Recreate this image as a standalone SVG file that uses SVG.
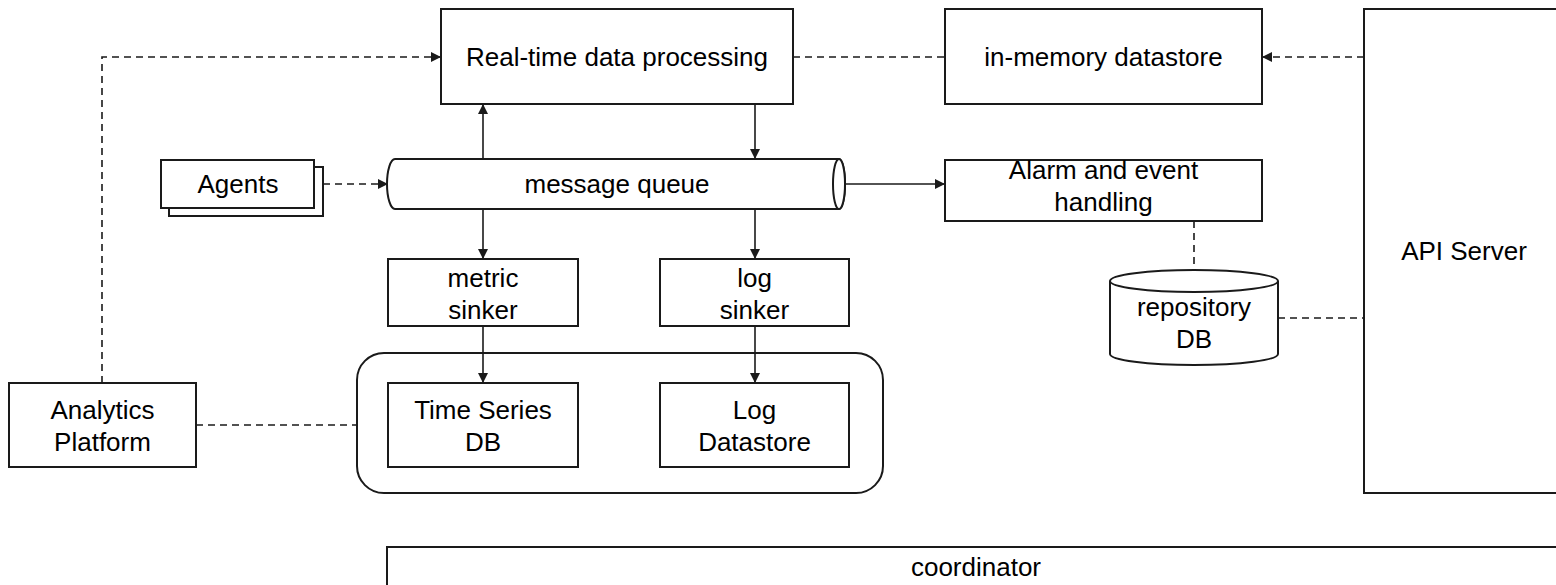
<svg xmlns="http://www.w3.org/2000/svg" width="1556" height="585" viewBox="0 0 1556 585">
<defs>
<marker id="arr" viewBox="0 0 10 10" refX="10" refY="5" markerWidth="10" markerHeight="10" markerUnits="userSpaceOnUse" orient="auto">
<path d="M0,0 L10,5 L0,10 Z" fill="#1a1a1a"/>
</marker>
<style>
.box{fill:#fff;stroke:#1a1a1a;stroke-width:2}
.t{font-family:"Liberation Sans",Arial,sans-serif;font-size:26px;fill:#000;text-anchor:middle}
.solid{fill:none;stroke:#1a1a1a;stroke-width:1.6}
.dash{fill:none;stroke:#1a1a1a;stroke-width:1.6;stroke-dasharray:7 5}
</style>
</defs>
<rect width="1556" height="585" fill="#fff"/>

<g id="container">
<rect class="box" x="357" y="353" width="526" height="140" rx="27" ry="27"/>
</g>

<g id="connectors">
<path class="dash" d="M102,383 L102,57 L441,57" marker-end="url(#arr)"/>
<path class="dash" d="M793,57 L945,57"/>
<path class="dash" d="M1364,57 L1262,57" marker-end="url(#arr)"/>
<path class="dash" d="M323,184 L388,184" marker-end="url(#arr)"/>
<path class="solid" d="M483,159 L483,104" marker-end="url(#arr)"/>
<path class="solid" d="M755,104 L755,159" marker-end="url(#arr)"/>
<path class="solid" d="M845,184 L945,184" marker-end="url(#arr)"/>
<path class="solid" d="M483,209 L483,259" marker-end="url(#arr)"/>
<path class="solid" d="M755,209 L755,259" marker-end="url(#arr)"/>
<path class="solid" d="M483,326 L483,383" marker-end="url(#arr)"/>
<path class="solid" d="M755,326 L755,383" marker-end="url(#arr)"/>
<path class="dash" d="M1194,221 L1194,270"/>
<path class="dash" d="M1278,318 L1364,318"/>
<path class="dash" d="M196,425 L357,425"/>
</g>

<g id="realtime">
<rect class="box" x="441" y="9" width="352" height="95"/>
<text class="t" x="617" y="66">Real-time data processing</text>
</g>

<g id="inmemory">
<rect class="box" x="945" y="9" width="317" height="95"/>
<text class="t" x="1103.5" y="66">in-memory datastore</text>
</g>

<g id="apiserver">
<rect class="box" x="1364" y="9" width="210" height="484"/>
<text class="t" x="1464" y="260">API Server</text>
</g>

<g id="agents">
<rect class="box" x="169" y="167" width="154" height="49"/>
<rect class="box" x="161" y="160" width="153" height="48"/>
<text class="t" x="238" y="193">Agents</text>
</g>

<g id="queue">
<path class="box" d="M395,159 L839,159 A6,25 0 0 1 839,209 L395,209 A8,25 0 0 1 395,159 Z"/>
<ellipse class="box" cx="839" cy="184" rx="6" ry="25"/>
<text class="t" x="617" y="193">message queue</text>
</g>

<g id="alarm">
<rect class="box" x="945" y="160" width="317" height="61"/>
<text class="t" x="1103.5" y="179">Alarm and event</text>
<text class="t" x="1103.5" y="211">handling</text>
</g>

<g id="repodb">
<path class="box" d="M1110,281 L1110,354 A84,11 0 0 0 1278,354 L1278,281"/>
<ellipse class="box" cx="1194" cy="281" rx="84" ry="11"/>
<text class="t" x="1194" y="316">repository</text>
<text class="t" x="1194" y="348">DB</text>
</g>

<g id="metricsinker">
<rect class="box" x="388" y="259" width="190" height="67"/>
<text class="t" x="483" y="287">metric</text>
<text class="t" x="483" y="319">sinker</text>
</g>

<g id="logsinker">
<rect class="box" x="660" y="259" width="189" height="67"/>
<text class="t" x="754.5" y="287">log</text>
<text class="t" x="754.5" y="319">sinker</text>
</g>

<g id="tsdb">
<rect class="box" x="388" y="383" width="190" height="84"/>
<text class="t" x="483" y="419">Time Series</text>
<text class="t" x="483" y="451">DB</text>
</g>

<g id="logdatastore">
<rect class="box" x="660" y="383" width="189" height="84"/>
<text class="t" x="754.5" y="419">Log</text>
<text class="t" x="754.5" y="451">Datastore</text>
</g>

<g id="analytics">
<rect class="box" x="9" y="383" width="187" height="84"/>
<text class="t" x="102.5" y="419">Analytics</text>
<text class="t" x="102.5" y="451">Platform</text>
</g>

<g id="coordinator">
<rect class="box" x="387" y="547" width="1190" height="60"/>
<text class="t" x="976" y="576">coordinator</text>
</g>
</svg>
